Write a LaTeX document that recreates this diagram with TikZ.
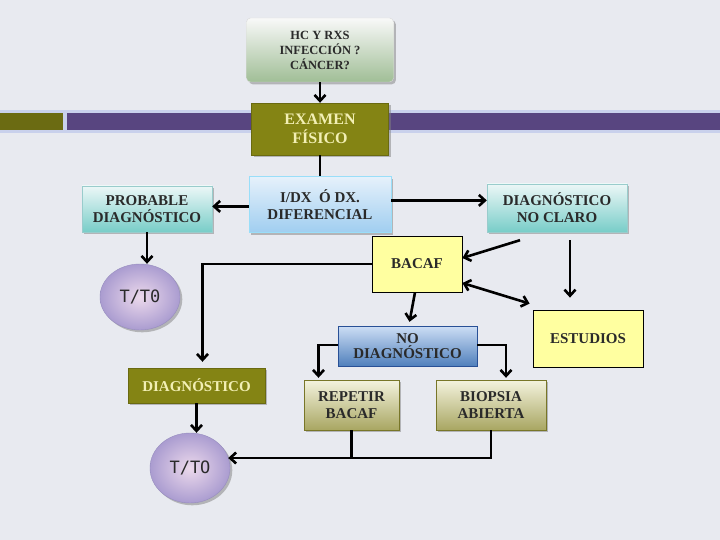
\documentclass[tikz,border=0pt]{standalone}
\usepackage{fontspec}
\setmainfont{Liberation Serif}
\newfontfamily\ovalfont{DejaVu Sans Mono}
\usepackage{xcolor}
\usetikzlibrary{positioning}
\usetikzlibrary{shadows}
\usetikzlibrary{shapes.geometric}
\usetikzlibrary{arrows.meta}
\definecolor{pagebg}{HTML}{E8EAF0}
\definecolor{bandlight}{HTML}{C9D1EC}
\definecolor{bandolive}{HTML}{6B6B12}
\definecolor{bandpurple}{HTML}{584580}
\definecolor{olivefill}{HTML}{848414}
\definecolor{olivetext}{HTML}{F2EFB4}
\definecolor{inktext}{HTML}{2A2A2A}
\tikzset{%
  boxgray/.style={rectangle,rounded corners=4pt,top color=white!95!gray,bottom color={rgb,255:red,160;green,190;blue,150},draw=white!70!gray,drop shadow,text=inktext,align=center,inner sep=2pt}
}
\tikzset{%
  boxola/.style={rectangle,fill=olivefill,draw=olivefill!80!black,drop shadow,text=olivetext,align=center,inner sep=2pt}
}
\tikzset{%
  boxteal/.style={rectangle,top color={rgb,255:red,236;green,247;blue,247},bottom color={rgb,255:red,120;green,205;blue,200},draw=white!60!teal,drop shadow,text=inktext,align=center,inner sep=2pt}
}
\tikzset{%
  boxsky/.style={rectangle,top color={rgb,255:red,230;green,241;blue,251},bottom color={rgb,255:red,160;green,206;blue,240},draw=white!60!cyan,drop shadow,text=inktext,align=center,inner sep=2pt}
}
\tikzset{%
  boxnavy/.style={rectangle,top color={rgb,255:red,205;green,222;blue,245},bottom color={rgb,255:red,80;green,128;blue,188},draw={rgb,255:red,40;green,80;blue,150},text=inktext,align=center,inner sep=1pt}
}
\tikzset{%
  boxyel/.style={rectangle,fill={rgb,255:red,255;green,255;blue,160},draw=black,thick,text=inktext,align=center,inner sep=2pt}
}
\tikzset{%
  boxtan/.style={rectangle,top color={rgb,255:red,244;green,243;blue,222},bottom color={rgb,255:red,168;green,166;blue,98},draw={rgb,255:red,120;green,118;blue,40},drop shadow,text=inktext,align=center,inner sep=2pt}
}
\tikzset{%
  ovalt/.style={ellipse,inner color=white!85!violet,outer color={rgb,255:red,170;green,156;blue,208},draw={rgb,255:red,150;green,140;blue,190},drop shadow,text=inktext,inner sep=0pt,font=\ovalfont\fontsize{17}{19}\selectfont}
}
\tikzset{%
  conn/.style={line width=2.6pt,black,>={Straight Barb[length=6pt,width=11pt]}}
}
\begin{document}
\begin{tikzpicture}[x=1pt,y=-1pt,node distance=21pt,font=\fontsize{15}{17}\selectfont\bfseries]
  \fill[pagebg] (0,0) rectangle (720,540);
  \useasboundingbox (0,0) rectangle (720,540);
  \fill[bandlight] (0,110) rectangle (720,133);
  \fill[bandolive] (0,113) rectangle (63,130);
  \fill[bandpurple] (67,113) rectangle (720,130);

  \node[boxgray,minimum width=147pt,minimum height=64pt,font=\fontsize{12.5}{15}\selectfont\bfseries](hcbox) at (320,50) {HC Y RXS\\INFECCIÓN ?\\CÁNCER?};
  \node[boxola,minimum width=137pt,minimum height=52pt,font=\fontsize{16}{19}\selectfont\bfseries](exambox) at (320,129) {EXAMEN\\FÍSICO};
  \node[boxsky,minimum width=142pt,minimum height=56pt,below=of exambox](idxbox) {I/DX~ Ó DX.\\DIFERENCIAL};
  \node[boxteal,minimum width=130pt,minimum height=46pt](probbox) at (147,209) {PROBABLE\\DIAGNÓSTICO};
  \node[boxteal,minimum width=140pt,minimum height=48pt](clarobox) at (557,208) {DIAGNÓSTICO\\NO CLARO};
  \node[boxyel,minimum width=90pt,minimum height=56pt](bacafbox) at (417,264) {BACAF};
  \node[boxyel,minimum width=110pt,minimum height=57pt](estbox) at (588,338.5) {ESTUDIOS};
  \node[boxnavy,minimum width=139pt,minimum height=40pt,font=\fontsize{15}{14.5}\selectfont\bfseries](nodxbox) at (407.5,346) {NO\\DIAGNÓSTICO};
  \node[ovalt,minimum width=80pt,minimum height=66pt](ttupper) at (140,297) {T/T0};
  \node[boxola,minimum width=137pt,minimum height=35pt](diagbox) at (196.5,385.5) {DIAGNÓSTICO};
  \node[boxtan,minimum width=95pt,minimum height=50pt](repbox) at (351.5,405) {REPETIR\\BACAF};
  \node[boxtan,minimum width=110pt,minimum height=50pt](biobox) at (491,405) {BIOPSIA\\ABIERTA};
  \node[ovalt,minimum width=80pt,minimum height=70pt](ttlower) at (190,468) {T/TO};

  \draw[conn,->] (hcbox) -- (exambox);
  \draw[conn] (exambox) -- (idxbox);
  \draw[conn,->] ([yshift=-2pt]idxbox.west) -- ([yshift=-2pt]idxbox.west -| probbox.east);
  \draw[conn,->] ([yshift=4pt]idxbox.east) -- ([yshift=4pt]idxbox.east -| clarobox.west);
  \draw[conn,->] (probbox.south) -- (probbox.south |- ttupper.north);
  \draw[conn,->] ([shift={(-37,8)}]clarobox.south) -- ([yshift=6pt]bacafbox.east);
  \draw[conn,->] ([shift={(13,8)}]clarobox.south) -- ([shift={(-18,-12)}]estbox.north);
  \draw[conn,<->] ([yshift=-19pt]bacafbox.east) -- ([shift={(-3,-6)}]estbox.north west);
  \draw[conn,->] ([xshift=-2pt]bacafbox.south) -- ([shift={(2,-4)}]nodxbox.north);
  \draw[conn,->] (bacafbox.west) -| ([shift={(6,-6)}]diagbox.north);
  \draw[conn,->] ([yshift=1pt]nodxbox.west) -| ([shift={(-33,-2)}]repbox.north);
  \draw[conn,->] ([yshift=1pt]nodxbox.east) -| ([shift={(15,-2)}]biobox.north);
  \draw[conn,->] (diagbox.south) -- (diagbox.south |- ttlower.north);
  \coordinate (merge) at ([shift={(-2,-10)}]ttlower.east);
  \draw[conn] (repbox.south) -- (repbox.south |- merge);
  \draw[conn,->] (biobox.south) |- (merge);
\end{tikzpicture}
\end{document}
